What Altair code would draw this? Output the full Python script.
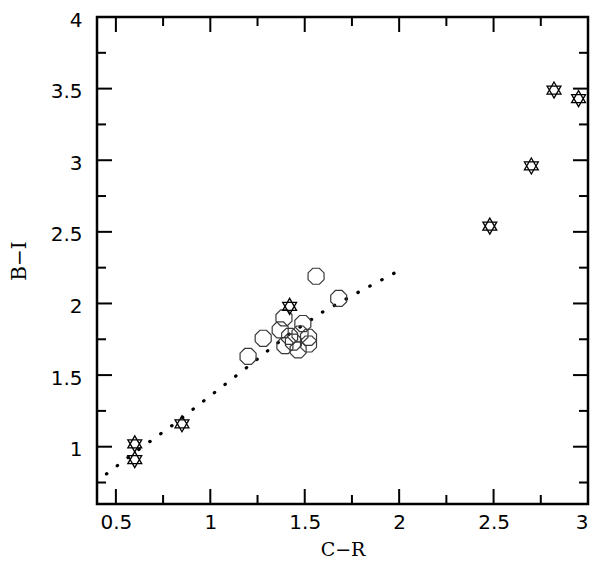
import altair as alt
import pandas as pd

# Star symbols (C-R, B-I)
star_x = [0.60, 0.60, 0.85, 1.42, 2.48, 2.70, 2.82, 2.95]
star_y = [1.02, 0.91, 1.16, 1.98, 2.54, 2.96, 3.49, 3.43]

# Octagon symbols
oct_x = [1.56, 1.68, 1.20, 1.28, 1.39, 1.49, 1.37, 1.42, 1.475, 1.52, 1.395, 1.465, 1.52, 1.44]
oct_y = [2.19, 2.035, 1.63, 1.757, 1.90, 1.86, 1.815, 1.77, 1.787, 1.764, 1.706, 1.676, 1.717, 1.73]

# Dotted relation
fit_x = [0.45, 0.6, 0.8, 1.0, 1.2, 1.4, 1.6, 1.8, 2.0]
fit_y = [0.81, 0.96, 1.15, 1.355, 1.56, 1.77, 1.945, 2.09, 2.23]

# Axis ticks
x_major = [0.5, 1.0, 1.5, 2.0, 2.5, 3.0]
x_minor = [0.75, 1.25, 1.75, 2.25, 2.75]
y_major = [1.0, 1.5, 2.0, 2.5, 3.0, 3.5, 4.0]
y_minor = [0.75, 1.25, 1.75, 2.25, 2.75, 3.25, 3.75]

W, H = 491, 487
MAJ, MIN = 15, 9

stars = pd.DataFrame({"x": star_x, "y": star_y})
octs = pd.DataFrame({"x": oct_x, "y": oct_y})
fit = pd.DataFrame({"x": fit_x, "y": fit_y})

xs = alt.Scale(domain=[0.4, 3.0], nice=False, zero=False)
ys = alt.Scale(domain=[0.6, 4.0], nice=False, zero=False)

xax = alt.Axis(values=x_major, format="~g", title="C\u2212R", grid=False, domain=False,
               ticks=False, tickSize=0, labelPadding=8, titlePadding=8,
               labelFont="DejaVu Sans", labelFontSize=20, labelColor="black",
               titleFont="DejaVu Serif", titleFontSize=19, titleFontWeight="normal",
               titleColor="black")
yax = alt.Axis(values=y_major, format="~g", title="B\u2212I", grid=False, domain=False,
               ticks=False, tickSize=0, labelPadding=15, titlePadding=21, labelOffset=3,
               labelFont="DejaVu Sans", labelFontSize=20, labelColor="black",
               titleFont="DejaVu Serif", titleFontSize=20, titleFontWeight="normal",
               titleColor="black")

HEX = "M0,-1L0.866,0.5L-0.866,0.5Z M0,1L0.866,-0.5L-0.866,-0.5Z"
OCT = ("M0.924,0.383L0.383,0.924L-0.383,0.924L-0.924,0.383L-0.924,-0.383"
       "L-0.383,-0.924L0.383,-0.924L0.924,-0.383Z")

line = alt.Chart(fit).mark_line(
    color="black", strokeWidth=3.2, strokeCap="round", strokeDash=[0.5, 13]
).encode(x=alt.X("x:Q", scale=xs, axis=xax), y=alt.Y("y:Q", scale=ys, axis=yax))

oct_layer = alt.Chart(octs).mark_point(
    shape=OCT, size=300, filled=False, stroke="#3a3a3a", strokeWidth=1.2, opacity=1
).encode(x=alt.X("x:Q", scale=xs), y=alt.Y("y:Q", scale=ys))

star_layer = alt.Chart(stars).mark_point(
    shape=HEX, size=256, filled=False, stroke="black", strokeWidth=1.3, opacity=1
).encode(x=alt.X("x:Q", scale=xs), y=alt.Y("y:Q", scale=ys))

def xticks(vals, length):
    d = pd.DataFrame({"v": vals})
    b = alt.Chart(d).mark_rule(color="black", strokeWidth=2).encode(
        x=alt.X("v:Q", scale=xs), y=alt.value(H), y2=alt.value(H - length))
    t = alt.Chart(d).mark_rule(color="black", strokeWidth=2).encode(
        x=alt.X("v:Q", scale=xs), y=alt.value(0), y2=alt.value(length))
    return [b, t]

def yticks(vals, length):
    d = pd.DataFrame({"v": vals})
    l = alt.Chart(d).mark_rule(color="black", strokeWidth=2).encode(
        y=alt.Y("v:Q", scale=ys), x=alt.value(0), x2=alt.value(length))
    r = alt.Chart(d).mark_rule(color="black", strokeWidth=2).encode(
        y=alt.Y("v:Q", scale=ys), x=alt.value(W), x2=alt.value(W - length))
    return [l, r]

layers = [line, oct_layer, star_layer] + xticks(x_major, MAJ) + xticks(x_minor, MIN) \
    + yticks(y_major, MAJ) + yticks(y_minor, MIN)

chart = alt.layer(*layers).properties(
    width=W, height=H,
    background="white",
    autosize=alt.AutoSizeParams(type="none"),
    padding={"left": 89, "top": 9, "right": 4, "bottom": 57},
).configure_view(stroke="black", strokeWidth=2.5)

chart.save("out.html", embed_options={"renderer": "svg", "actions": False})
